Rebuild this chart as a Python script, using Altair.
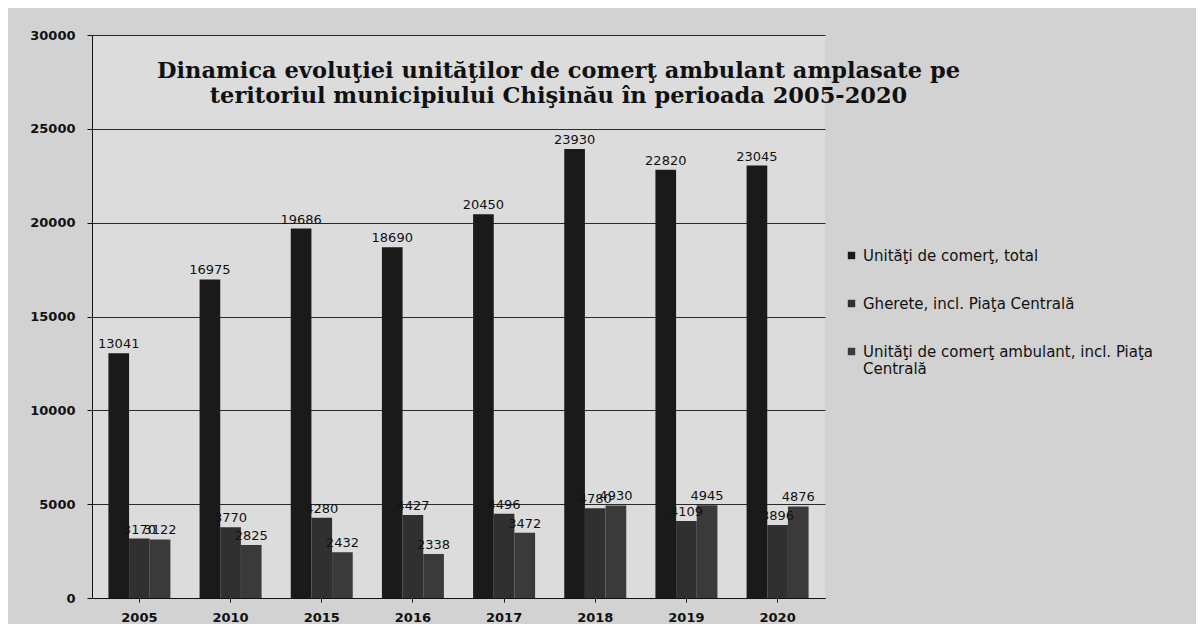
import altair as alt
import pandas as pd

years = ["2005", "2010", "2015", "2016", "2017", "2018", "2019", "2020"]
total = [13041, 16975, 19686, 18690, 20450, 23930, 22820, 23045]
gherete = [3170, 3770, 4280, 4427, 4496, 4780, 4109, 3896]
ambulant = [3122, 2825, 2432, 2338, 3472, 4930, 4945, 4876]
series = [
    "Unităţi  de  comerţ, total",
    "Gherete, incl. Piaţa Centrală",
    "Unităţi  de  comerţ  ambulant, incl. Piaţa Centrală",
]
colors = ["#1a1a1a", "#303030", "#3a3a3a"]
title_lines = [
    "Dinamica evoluţiei unităţilor de comerţ ambulant amplasate pe",
    "teritoriul municipiului Chişinău în perioada 2005-2020",
]

rows = []
for i, yr in enumerate(years):
    for s, vals in zip(series, [total, gherete, ambulant]):
        rows.append({"year": yr, "series": s, "value": vals[i]})
df = pd.DataFrame(rows)

x = alt.X(
    "year:N", sort=years, title=None,
    scale=alt.Scale(paddingInner=0.32, paddingOuter=0.18),
    axis=alt.Axis(labelAngle=0, labelFont="DejaVu Sans", labelFontSize=13,
                  labelFontWeight="bold", labelColor="#111", domainColor="#111",
                  tickColor="#111", tickSize=4, labelPadding=9, grid=False),
)
xo = alt.XOffset("series:N", sort=series, scale=alt.Scale(paddingInner=0, paddingOuter=0))
y = alt.Y(
    "value:Q", title=None,
    scale=alt.Scale(domain=[0, 30000], nice=False),
    axis=alt.Axis(values=[0, 5000, 10000, 15000, 20000, 25000, 30000], format="d",
                  labelFont="DejaVu Sans", labelFontSize=13, labelFontWeight="bold",
                  labelColor="#111", domainColor="#111", tickColor="#111",
                  tickSize=5, labelPadding=12, grid=True, gridColor="#2a2a2a",
                  gridWidth=1),
)

bars = alt.Chart(df).mark_bar().encode(
    x=x, xOffset=xo, y=y,
    color=alt.Color(
        "series:N", sort=series,
        scale=alt.Scale(domain=series, range=colors),
        legend=alt.Legend(
            title=None, orient="none", legendX=752, legendY=213,
            symbolType="square", symbolSize=55, symbolStrokeWidth=0,
            labelFont="DejaVu Sans", labelFontSize=15, labelColor="#111",
            labelLimit=400, rowPadding=32, labelOffset=4,
            labelExpr="datum.label == '" + series[2] + "' ? ['Unităţi  de  comerţ  ambulant, incl. Piaţa', 'Centrală'] : datum.label",
        ),
    ),
)

labels = alt.Chart(df).mark_text(
    dy=-9, font="DejaVu Sans", fontSize=13, color="#111"
).encode(x=x, xOffset=xo, y=y, text=alt.Text("value:Q", format="d"))

chart = alt.layer(bars, labels).properties(
    width=733, height=563,
    autosize=alt.AutoSizeParams(type="none"),
    padding={"left": 84, "top": 27, "right": 371, "bottom": 26},
    background="#d2d2d2",
    title=alt.TitleParams(
        text=title_lines, font="DejaVu Serif", fontSize=22.5, fontWeight="bold",
        color="#111", anchor="middle", dx=100, dy=78, offset=0, lineHeight=25,
    ),
).configure_view(stroke=None, fill="#dcdcdc")

chart.save("out.html", embed_options={"renderer": "svg", "actions": False})
